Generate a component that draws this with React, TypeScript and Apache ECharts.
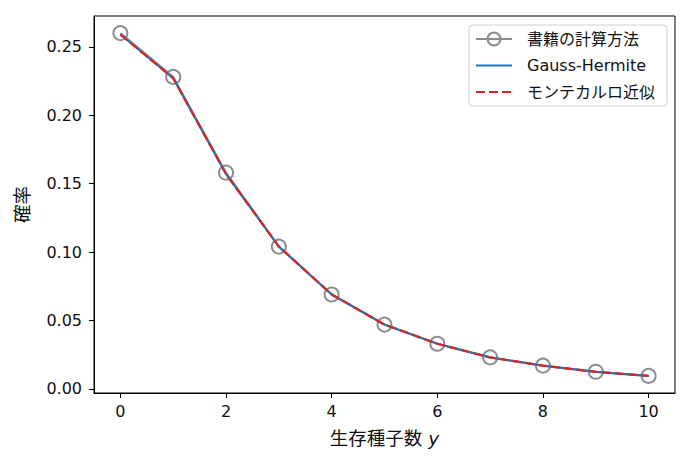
import { useEffect, useRef } from 'react';
import * as echarts from 'echarts';

// number of surviving seeds
const seedCounts = [0, 1, 2, 3, 4, 5, 6, 7, 8, 9, 10];
const bookValues = [0.26, 0.228, 0.158, 0.104, 0.069, 0.047, 0.033, 0.023, 0.017, 0.0125, 0.0095];
const gaussHermiteValues = [0.259, 0.227, 0.157, 0.104, 0.069, 0.047, 0.033, 0.023, 0.017, 0.0125, 0.0095];
const monteCarloValues = [0.259, 0.227, 0.157, 0.104, 0.069, 0.047, 0.033, 0.023, 0.017, 0.0125, 0.0095];
const xTicks = [0, 2, 4, 6, 8, 10];
const yTicks = [0, 0.05, 0.1, 0.15, 0.2, 0.25];

const FONT = '"DejaVu Sans", "Noto Sans CJK JP", sans-serif';

const toPoints = (values: number[]) => seedCounts.map((y, i) => [y, values[i]]);

export default function App() {
  const chartRef = useRef<HTMLDivElement | null>(null);

  useEffect(() => {
    if (!chartRef.current) return;
    const chart = echarts.init(chartRef.current, null, { renderer: 'svg' });

    chart.setOption({
      animation: false,
      textStyle: { fontFamily: FONT },
      grid: {
        left: 94,
        right: 11,
        top: 16,
        bottom: 68,
        show: true,
        borderColor: '#000',
        borderWidth: 1,
      },
      legend: {
        orient: 'vertical',
        right: 19,
        top: 25,
        itemWidth: 36,
        itemHeight: 16,
        itemGap: 10.5,
        padding: [6, 12, 6, 6],
        backgroundColor: '#fff',
        borderColor: '#d0d0d0',
        borderWidth: 1,
        borderRadius: 4,
        textStyle: { fontSize: 16, color: '#111', fontFamily: FONT, padding: [0, 0, 0, 10] },
        data: [
          { name: '書籍の計算方法' },
          { name: 'Gauss-Hermite', itemStyle: { opacity: 0 } },
          { name: 'モンテカルロ近似', itemStyle: { opacity: 0 } },
        ],
      },
      xAxis: {
        type: 'value',
        min: -0.5,
        max: 10.5,
        name: '{a|生存種子数 }{b|y}',
        nameLocation: 'middle',
        nameGap: 36,
        nameTextStyle: {
          rich: {
            a: { fontSize: 18.5, color: '#111', fontFamily: FONT },
            b: { fontSize: 18.5, color: '#111', fontFamily: FONT, fontStyle: 'italic' },
          },
        },
        splitLine: { show: false },
        axisLine: { show: true, onZero: false, lineStyle: { color: '#000', width: 1 } },
        axisTick: { show: true, length: 5, customValues: xTicks, lineStyle: { color: '#000' } },
        axisLabel: {
          customValues: xTicks,
          fontSize: 16,
          color: '#111',
          margin: 10,
          fontFamily: FONT,
        },
      },
      yAxis: {
        type: 'value',
        min: -0.003,
        max: 0.2725,
        name: '確率',
        nameLocation: 'middle',
        nameRotate: 90,
        nameGap: 62,
        nameTextStyle: { fontSize: 18.5, color: '#111', fontFamily: FONT },
        splitLine: { show: false },
        axisLine: { show: true, onZero: false, lineStyle: { color: '#000', width: 1 } },
        axisTick: { show: true, length: 5, customValues: yTicks, lineStyle: { color: '#000' } },
        axisLabel: {
          customValues: yTicks,
          fontSize: 16,
          color: '#111',
          margin: 12,
          fontFamily: FONT,
          formatter: (v: number) => v.toFixed(2),
        },
      },
      series: [
        {
          name: '書籍の計算方法',
          type: 'line',
          z: 2,
          data: toPoints(bookValues),
          symbol: 'circle',
          symbolSize: 14,
          showSymbol: true,
          itemStyle: { color: 'rgba(255,255,255,0)', borderColor: '#8c8c8c', borderWidth: 2 },
          lineStyle: { color: '#8c8c8c', width: 2 },
        },
        {
          name: 'Gauss-Hermite',
          type: 'line',
          z: 3,
          data: toPoints(gaussHermiteValues),
          showSymbol: false,
          symbol: 'none',
          itemStyle: { color: '#1f77b4' },
          lineStyle: { color: '#1f77b4', width: 2.2 },
        },
        {
          name: 'モンテカルロ近似',
          type: 'line',
          z: 4,
          data: toPoints(monteCarloValues),
          showSymbol: false,
          symbol: 'none',
          itemStyle: { color: '#d62728' },
          lineStyle: { color: '#d62728', width: 2.2, type: [9, 4] },
        },
      ],
    });

    return () => chart.dispose();
  }, []);

  return (
    <div
      ref={chartRef}
      style={{ position: 'absolute', left: 0, top: 0, width: 686, height: 461, background: '#fff' }}
    />
  );
}
